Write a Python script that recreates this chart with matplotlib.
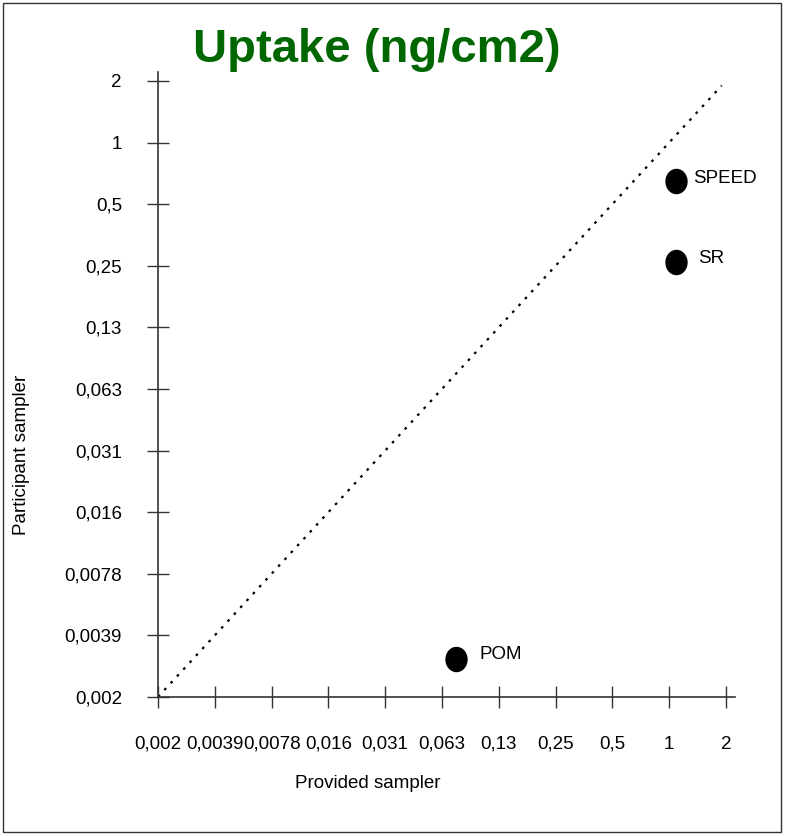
import numpy as np
import matplotlib
matplotlib.use("Agg")
import matplotlib.pyplot as plt
from matplotlib.patches import Rectangle
from matplotlib.path import Path
from matplotlib.transforms import Affine2D

plt.rcParams['font.family'] = ['Liberation Sans', 'DejaVu Sans']

# uptake per sampler type (ng/cm2)
samplers = ["SPEED", "SR", "POM"]
provided = [1.09, 1.09, 0.074]
participant = [0.65, 0.26, 0.0030]
label_offsets = [(12, 2), (16, 3), (17, 3)]

# log2 tick grid
tick_values = [2.0 ** k for k in range(-9, 2)]
tick_labels = ["0,002", "0,0039", "0,0078", "0,016", "0,031", "0,063",
               "0,13", "0,25", "0,5", "1", "2"]
line_end = 1.9

fig = plt.figure(figsize=(7.88, 8.36), dpi=100)
ax = fig.add_axes([0.2005, 0.1663, 0.7322, 0.7476])

ax.set_xscale("log", base=2)
ax.set_yscale("log", base=2)
ax.set_xlim(2.0 ** -9, 2.0 ** (1 + 9 / 56.8))
ax.set_ylim(2.0 ** -9, 2.0 ** (1 + 9 / 61.6))

# 1:1 reference line
ax.plot([2.0 ** -9, line_end], [2.0 ** -9, line_end], color="black",
        lw=1.6, linestyle=(0, (1.2, 3)))

# slightly tall oval markers
oval = Path.unit_circle().transformed(Affine2D().scale(0.87, 1.0))
ax.scatter(provided, participant, marker=oval, s=300, color="black", zorder=3)
for name, x, y, off in zip(samplers, provided, participant, label_offsets):
    ax.annotate(name, (x, y), xytext=off, textcoords="offset points",
                fontsize=13.5, va="center", ha="left")

for side in ["top", "right"]:
    ax.spines[side].set_visible(False)
for side in ["left", "bottom"]:
    ax.spines[side].set_color("#333333")
    ax.spines[side].set_linewidth(1.2)

ax.set_xticks(tick_values)
ax.set_xticklabels(tick_labels)
ax.set_yticks(tick_values)
ax.set_yticklabels(tick_labels)
ax.minorticks_off()
ax.tick_params(axis="both", direction="inout", length=16, width=1,
               color="#333333", labelsize=13.5)
ax.tick_params(axis="x", pad=20)
ax.tick_params(axis="y", pad=18)

fig.text(368 / 788, 1 - 784 / 836, "Provided sampler", fontsize=13.5,
         ha="center", va="center")
fig.text(22 / 788, 1 - 455 / 836, "Participant sampler", fontsize=13.5,
         rotation=90, ha="center", va="center")

fig.text(0.478, 0.926, "Uptake (ng/cm2)", fontsize=34, fontweight="bold",
         color="#006600", ha="center", va="baseline")

fig.patches.append(Rectangle((0.0038, 0.0048), 0.987, 0.9916, transform=fig.transFigure,
                             fill=False, edgecolor="#333333", lw=1))

fig.savefig("out.png", dpi=100)
